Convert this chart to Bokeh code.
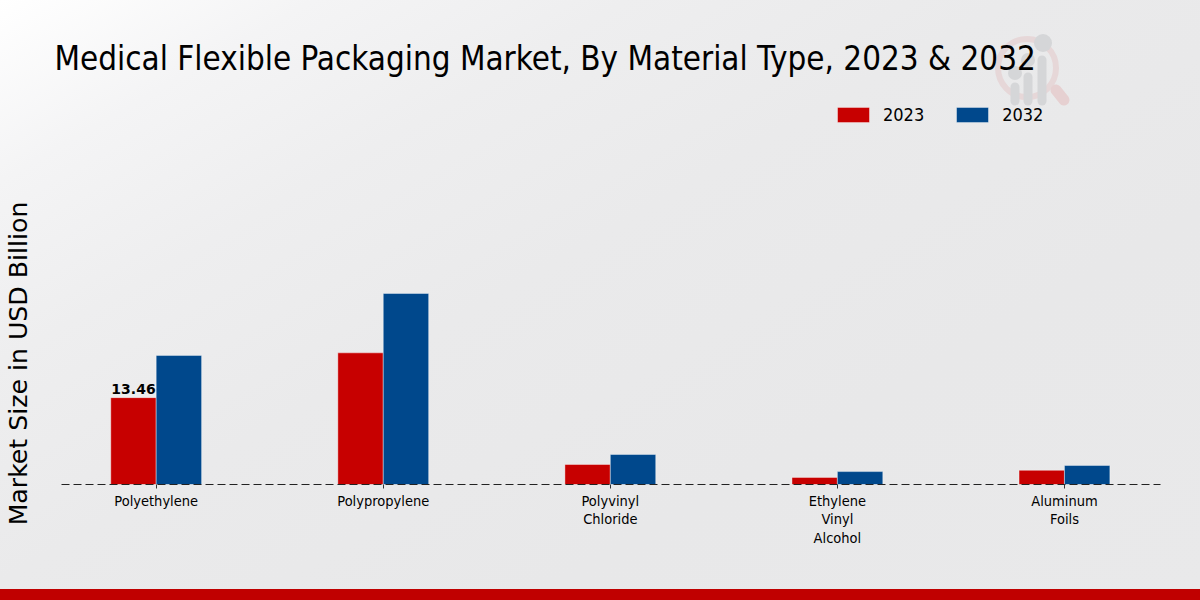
from urllib.parse import quote
from bokeh.core.properties import value
from bokeh.embed import file_html
from bokeh.layouts import column
from bokeh.resources import INLINE
from bokeh.models import ColumnDataSource, FixedTicker, Legend, LegendItem, Range1d, Title
from bokeh.plotting import figure
from bokeh.transform import dodge

categories = ["Polyethylene", "Polypropylene", "Polyvinyl\nChloride", "Ethylene\nVinyl\nAlcohol", "Aluminum\nFoils"]
positions = [0, 1, 2, 3, 4]
values_2023 = [13.46, 20.4, 3.1, 1.1, 2.2]
values_2032 = [20.0, 29.6, 4.65, 2.0, 2.95]
label_x = [0]
label_y = [13.46]
label_text = ["13.46"]
series_names = ["2023", "2032"]
series_colors = ["#c70000", "#00488c"]

NARROW = "DejaVu Sans Condensed"

# Page decoration: watermark and footer band, behind the transparent canvases
watermark = """<svg xmlns='http://www.w3.org/2000/svg' width='1200' height='600'>
<circle cx='1027' cy='68' r='29' fill='none' stroke='#e6d7d8' stroke-width='6'/>
<line x1='1056' y1='90' x2='1064' y2='100' stroke='#e6d0d1' stroke-width='11' stroke-linecap='round'/>
<g stroke='#d5d6d8' stroke-width='9' stroke-linecap='round' fill='#d5d6d8'>
<line x1='1015' y1='87' x2='1015' y2='101'/><line x1='1028' y1='77' x2='1028' y2='101'/><line x1='1042' y1='60' x2='1042' y2='101'/></g>
<g fill='#d5d6d8'><circle cx='1015' cy='73' r='7'/><circle cx='1028' cy='60' r='7'/><circle cx='1043' cy='43' r='9'/></g>
<rect x='0' y='589' width='1200' height='11' fill='#c00000'/>
</svg>"""
css = (":host { background-image: url(\"data:image/svg+xml," + quote(watermark) + "\"),"
       " linear-gradient(150deg, #ffffff 0%, #f4f4f5 14%, #eeeeef 28%, #eaeaeb 45%, #e8e8e9 70%, #e9e9ea 100%);"
       " background-size: 1200px 600px; background-repeat: no-repeat; }")

src = ColumnDataSource(dict(pos=positions, v2023=values_2023, v2032=values_2032))

# Header figure: title and legend (its x range looks away from the data, only the legend shows the series)
head = figure(width=1200, height=200, output_backend="svg", toolbar_location=None,
              x_range=Range1d(100, 101), y_range=Range1d(100, 101),
              min_border_left=60, min_border_right=40, min_border_top=85, min_border_bottom=0)
head.background_fill_alpha = 0
head.border_fill_alpha = 0
head.outline_line_color = None
head.grid.visible = False
head.xaxis.visible = False
head.yaxis.visible = False
h1 = head.vbar(x="pos", top="v2023", width=0.2, source=src, fill_color=series_colors[0],
               line_color="#ffffff", line_alpha=0.4)
h2 = head.vbar(x="pos", top="v2032", width=0.2, source=src, fill_color=series_colors[1],
               line_color="#ffffff", line_alpha=0.4)
title = Title(text="Medical Flexible Packaging Market, By Material Type, 2023 & 2032",
              text_font=NARROW, text_font_size="32.9px", text_font_style="normal",
              text_color="#000000", align="left", offset=-7, standoff=16)
head.add_layout(title, "above")
legend = Legend(items=[LegendItem(label=series_names[0], renderers=[h1]), LegendItem(label=series_names[1], renderers=[h2])],
                orientation="horizontal", location=(772, 75), background_fill_alpha=0, border_line_color=None,
                glyph_width=40, glyph_height=19, label_standoff=10, spacing=28,
                label_text_font=NARROW, label_text_font_size="18px", label_text_color="#000000")
head.add_layout(legend, "center")

# Chart figure
p = figure(width=1200, height=400, output_backend="svg", toolbar_location=None,
           x_range=Range1d(-0.417, 4.423), y_range=Range1d(0, 37.5),
           min_border_left=60, min_border_right=40, min_border_top=42, min_border_bottom=116)
p.background_fill_alpha = 0
p.border_fill_alpha = 0
p.outline_line_color = None
p.grid.visible = False

p.vbar(x=dodge("pos", -0.1, range=p.x_range), top="v2023", width=0.2, source=src,
       fill_color=series_colors[0], line_color="#ffffff", line_alpha=0.4, line_width=1)
p.vbar(x=dodge("pos", 0.1, range=p.x_range), top="v2032", width=0.2, source=src,
       fill_color=series_colors[1], line_color="#ffffff", line_alpha=0.4, line_width=1)

p.text(x=dodge("x", -0.1, range=p.x_range), y="y", text="t",
       source=ColumnDataSource(dict(x=label_x, y=label_y, t=label_text)),
       text_align="center", text_baseline="bottom", text_font=value("DejaVu Sans"), text_font_size="14px",
       text_font_style="bold", text_color="#000000", y_offset=-4)

ax = p.xaxis[0]
ax.ticker = FixedTicker(ticks=positions)
ax.major_label_overrides = dict(zip(positions, categories))
ax.major_label_text_font = NARROW
ax.major_label_text_font_size = "14.5px"
ax.major_label_text_line_height = 1.18
ax.major_label_text_color = "#000000"
ax.axis_line_color = "#222222"
ax.axis_line_dash = [8, 4]
ax.axis_line_width = 1
ax.major_tick_in = 0
ax.major_tick_out = 4
ax.major_tick_line_color = "#333333"
ax.minor_tick_line_color = None
ax.major_label_standoff = 4

ay = p.yaxis[0]
ay.ticker = FixedTicker(ticks=[])
ay.axis_line_color = None
ay.major_tick_line_color = None
ay.minor_tick_line_color = None
ay.axis_label = "Market Size in USD Billion"
ay.axis_label_text_font = "DejaVu Sans"
ay.axis_label_text_font_style = "normal"
ay.axis_label_text_font_size = "25.2px"
ay.axis_label_text_color = "#000000"
ay.axis_label_standoff = 29

page = column(head, p, spacing=0, stylesheets=[css])
open("out.html", "w").write(file_html(page, INLINE))
